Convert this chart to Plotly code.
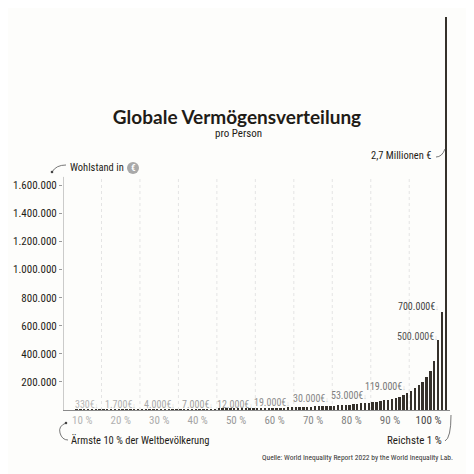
import numpy as np
import plotly.graph_objects as go

# Vermögen pro Perzentil (1 .. 100), in Euro
percentile = list(range(1, 101))
wealth = [
    0, 10, 30, 60, 90, 130, 170, 220, 270, 330,
    400, 480, 570, 670, 790, 920, 1070, 1230, 1450, 1700,
    1900, 2100, 2300, 2500, 2700, 2950, 3200, 3450, 3700, 4000,
    4250, 4500, 4800, 5100, 5400, 5700, 6000, 6300, 6650, 7000,
    7400, 7850, 8300, 8750, 9200, 9700, 10200, 10700, 11300, 12000,
    12600, 13200, 13800, 14400, 15000, 15700, 16400, 17200, 18100, 19000,
    19900, 20800, 21800, 22800, 23900, 25000, 26200, 27400, 28700, 30000,
    31600, 33300, 35100, 37000, 39100, 41400, 43900, 46700, 49700, 53000,
    56500, 60300, 64500, 69200, 74400, 80300, 87000, 94700, 103800, 119000,
    135000, 155000, 175000, 200000, 235000, 280000, 350000, 500000, 700000, 2800000,
]

decile_ticks = ["10 %", "20 %", "30 %", "40 %", "50 %", "60 %", "70 %", "80 %", "90 %", "100 %"]
tick_colors = ["#b4b4b4", "#b0b0b0", "#aaaaaa", "#a5a5a5", "#9a9a9a",
               "#909090", "#888888", "#808080", "#707070", "#444444"]

value_labels = ["330€", "1.700€", "4.000€", "7.000€", "12.000€", "19.000€",
                "30.000€", "53.000€", "119.000€", "500.000€", "700.000€"]
value_label_pct = [9.6, 19.6, 29.6, 39.6, 49.9, 59.6, 69.6, 79.6, 89.6, 97.9, 98.2]
value_label_y = [42000, 42000, 42000, 42000, 42000, 50000, 85000, 100000, 164000, 527000, 740000]
value_label_colors = ["#b8b8b8", "#b0b0b0", "#a8a8a8", "#a0a0a0", "#999999", "#909090",
                      "#888888", "#808080", "#777777", "#555555", "#444444"]

y_ticks = [200000, 400000, 600000, 800000, 1000000, 1200000, 1400000, 1600000]

FONT = "Liberation Sans Narrow, Arial Narrow, Roboto Condensed, Liberation Sans, sans-serif"
INK = "#1f1c17"
BAR = "#35312b"

# the page has an 8px body margin: work in page pixels, subtract it
OFF = 8
W, H = 466, 466
L, R, T, B = 63 - OFF, 450 - OFF, 14 - OFF, 410 - OFF
YMAX = 2820000


def px(x):
    return (x - OFF - L) / (R - L)


def py(y):
    return (B - (y - OFF)) / (B - T)


fig = go.Figure()
fig.add_trace(go.Bar(
    x=np.array(percentile) - 0.5, y=wealth, width=0.62,
    marker=dict(color=BAR, line=dict(width=0)),
    hoverinfo="skip",
))

# gepunktete Dezil-Linien
for d in range(10, 100, 10):
    fig.add_shape(type="line", xref="x", yref="y", x0=d, x1=d, y0=0, y1=1660000,
                  line=dict(color="#e4e4e4", width=1, dash="dot"), layer="below")
# y-Achsenlinie nur bis 1,66 Mio.
fig.add_shape(type="line", xref="x", yref="y", x0=0, x1=0, y0=0, y1=1660000,
              line=dict(color="#9a9a9a", width=1))

ann = []
for txt, xp, yv, c in zip(value_labels, value_label_pct, value_label_y, value_label_colors):
    ann.append(dict(
        x=xp, y=yv, xref="x", yref="y", xanchor="right", yanchor="middle",
        text=txt + "<span style='font-size:7px;color:#c8c8c8'>↓</span>",
        showarrow=False, font=dict(family=FONT, size=10, color=c),
    ))

ann += [
    dict(x=px(238), y=py(133), xref="paper", yref="paper", text="pro Person",
         showarrow=False, font=dict(family=FONT, size=11, color=INK), xanchor="center", yanchor="middle"),
    dict(x=px(68), y=py(168), xref="paper", yref="paper", text="Wohlstand in",
         showarrow=False, font=dict(family=FONT, size=10.5, color=INK), xanchor="left", yanchor="middle"),
    dict(x=px(133), y=py(168), xref="paper", yref="paper", text="<b>€</b>",
         showarrow=False, font=dict(family=FONT, size=9, color="white"), xanchor="center", yanchor="middle"),
    dict(x=px(433), y=py(155), xref="paper", yref="paper", text="2,7 Millionen €",
         showarrow=False, font=dict(family=FONT, size=10.5, color=INK), xanchor="right", yanchor="middle"),
    dict(x=px(69), y=py(440), xref="paper", yref="paper", text="Ärmste 10 % der Weltbevölkerung",
         showarrow=False, font=dict(family=FONT, size=10.5, color=INK), xanchor="left", yanchor="middle"),
    dict(x=px(444), y=py(440), xref="paper", yref="paper", text="Reichste 1 %",
         showarrow=False, font=dict(family=FONT, size=11, color=INK), xanchor="right", yanchor="middle"),
    dict(x=px(455), y=py(458), xref="paper", yref="paper",
         text="Quelle: World Inequality Report 2022 by the World Inequality Lab.",
         showarrow=False, font=dict(family=FONT, size=7.5, color="#333333"), xanchor="right", yanchor="middle"),
]

# Euro-Kreis
fig.add_shape(type="circle", xref="paper", yref="paper",
              x0=px(127), x1=px(139), y0=py(174), y1=py(162),
              fillcolor="#a9a9a9", line=dict(width=0))


def path(points):
    (x0, y0), rest = points[0], points[1:]
    s = f"M {px(x0)},{py(y0)}"
    for i in range(0, len(rest), 2):
        (cx, cy), (ex, ey) = rest[i], rest[i + 1]
        s += f" Q {px(cx)},{py(cy)} {px(ex)},{py(ey)}"
    return s


curves = [
    [(52, 172), (56, 165), (66, 165)],
    [(66, 423), (58, 426), (60, 433), (62, 440), (68, 440)],
    [(451, 415), (451, 438), (445, 441)],
    [(436, 157), (442, 157), (445, 149)],
]
for pts in curves:
    fig.add_shape(type="path", xref="paper", yref="paper", path=path(pts),
                  line=dict(color="#555555", width=0.8))
for (dx, dy) in [(52, 172), (66, 423)]:
    fig.add_shape(type="circle", xref="paper", yref="paper",
                  x0=px(dx - 1.3), x1=px(dx + 1.3), y0=py(dy + 1.3), y1=py(dy - 1.3),
                  fillcolor="#444444", line=dict(width=0))

fig.update_layout(
    width=W, height=H,
    margin=dict(l=L, r=W - R, t=T, b=H - B),
    paper_bgcolor="#fdfdfb", plot_bgcolor="#fdfdfb",
    separators=",.",
    showlegend=False,
    bargap=0,
    title=dict(text="<b>Globale Vermögensverteilung</b>", x=(237 - OFF) / W, xanchor="center",
               y=1 - (117 - OFF) / H, yanchor="middle",
               font=dict(family="Lato, Liberation Sans, sans-serif", size=19, color=INK)),
    annotations=ann,
    xaxis=dict(range=[0, 100.6], tickvals=[5, 15, 25, 35, 45, 55, 65, 75, 85, 95],
               ticktext=[f"<span style='color:{c}'>{t}</span>" for t, c in zip(decile_ticks, tick_colors)],
               showgrid=False, zeroline=False, showline=True, linecolor="#8a8a8a", linewidth=1,
               ticks="", tickfont=dict(family=FONT, size=11), fixedrange=True),
    yaxis=dict(range=[0, YMAX], tickvals=y_ticks, tickformat=",d",
               showgrid=False, zeroline=False, showline=False,
               ticks="outside", ticklen=3, tickcolor="#9a9a9a",
               tickfont=dict(family=FONT, size=11, color=INK), fixedrange=True),
)

fig.write_html("out.html")
